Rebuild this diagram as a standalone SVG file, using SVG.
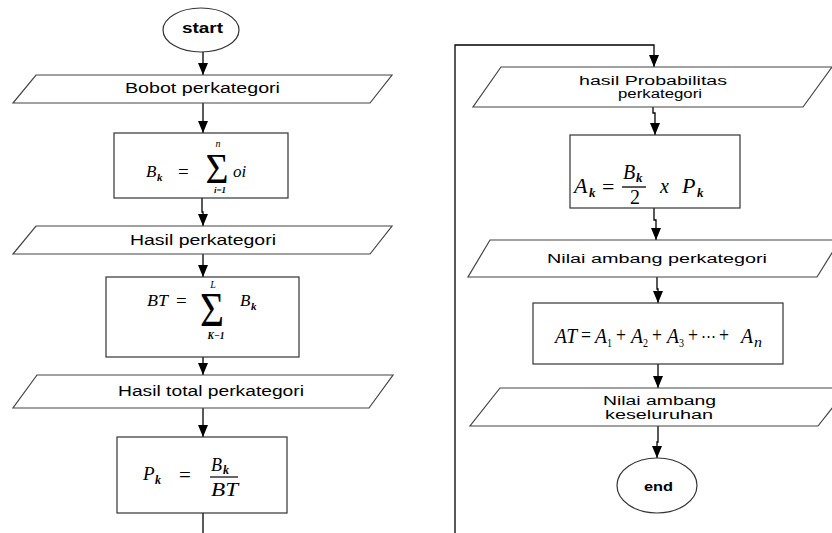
<svg xmlns="http://www.w3.org/2000/svg" width="832" height="533" viewBox="0 0 832 533">
<defs>
<marker id="ah" markerWidth="12" markerHeight="10" refX="12" refY="5" orient="auto" markerUnits="userSpaceOnUse">
<path d="M0,0 L12,5 L0,10 Z" fill="#000"/>
</marker>
<style>
.sh{fill:#fff;stroke:#333;stroke-width:1.2}
.io{fill:#fff;stroke:#444;stroke-width:1.2}
.lbl{font-family:"Liberation Sans",Arial,sans-serif;fill:#000}
.b{font-weight:bold}
.m{font-family:"Liberation Serif","Times New Roman",serif;fill:#000}
.i{font-style:italic}
.kb{font-style:italic;font-weight:bold}
.con{fill:none;stroke:#000;stroke-width:1.3}
</style>
</defs>
<rect width="832" height="533" fill="#fff"/>

<g id="connectors">
<path class="con" d="M203,52 V75" marker-end="url(#ah)"/>
<path class="con" d="M203,103 V133" marker-end="url(#ah)"/>
<path class="con" d="M202,198 V212 H203 V226" marker-end="url(#ah)"/>
<path class="con" d="M203,254 V277" marker-end="url(#ah)"/>
<path class="con" d="M203,357 V375" marker-end="url(#ah)"/>
<path class="con" d="M203,408 V437" marker-end="url(#ah)"/>
<path class="con" d="M203,513 V533"/>
<path class="con" d="M455,533 V45 H654 V67" marker-end="url(#ah)"/>
<path class="con" d="M653,107 V113 H655 V135" marker-end="url(#ah)"/>
<path class="con" d="M654,208 V220 H656 V240" marker-end="url(#ah)"/>
<path class="con" d="M657,277 V289 H658 V303" marker-end="url(#ah)"/>
<path class="con" d="M658,364 V388" marker-end="url(#ah)"/>
<path class="con" d="M658,426 V442 H657 V458" marker-end="url(#ah)"/>
</g>

<g id="start">
<ellipse class="sh" cx="201" cy="30" rx="38" ry="22"/>
<text class="lbl b" x="182" y="33" font-size="14" textLength="41" lengthAdjust="spacingAndGlyphs">start</text>
</g>

<g id="bobot">
<polygon class="io" points="36,75 392,75 370,103 13,103"/>
<text class="lbl" x="125" y="93" font-size="14" textLength="155" lengthAdjust="spacingAndGlyphs">Bobot perkategori</text>
</g>

<g id="formula-bk">
<rect class="sh" x="114" y="133" width="174" height="65"/>
<text class="m i" x="146" y="177" font-size="17">B</text>
<text class="m kb" x="157" y="181" font-size="11">k</text>
<text class="m" x="178" y="178" font-size="19">=</text>
<text class="m" x="217" y="183" font-size="42" text-anchor="middle" textLength="23" lengthAdjust="spacingAndGlyphs">Σ</text>
<text class="m i" x="218" y="147" font-size="10" text-anchor="middle">n</text>
<text class="m i" x="220" y="193" font-size="9" text-anchor="middle" font-weight="bold">i=1</text>
<text class="m i" x="233" y="177" font-size="17">oi</text>
</g>

<g id="hasil">
<polygon class="io" points="36,226 392,226 370,254 13,254"/>
<text class="lbl" x="130" y="245" font-size="14" textLength="146" lengthAdjust="spacingAndGlyphs">Hasil perkategori</text>
</g>

<g id="formula-bt">
<rect class="sh" x="106" y="277" width="193" height="80"/>
<text class="m i" x="147" y="306" font-size="17" textLength="21" lengthAdjust="spacingAndGlyphs">BT</text>
<text class="m" x="176" y="307" font-size="19">=</text>
<text class="m" x="212" y="326" font-size="48" text-anchor="middle" textLength="24" lengthAdjust="spacingAndGlyphs">Σ</text>
<text class="m i" x="213" y="288" font-size="10" text-anchor="middle">L</text>
<text class="m i" x="216" y="339" font-size="9.5" text-anchor="middle" font-weight="bold">K−1</text>
<text class="m i" x="240" y="306" font-size="17">B</text>
<text class="m kb" x="251" y="310" font-size="11">k</text>
</g>

<g id="hasil-total">
<polygon class="io" points="37,375 393,375 369,408 13,408"/>
<text class="lbl" x="118" y="396" font-size="14" textLength="186" lengthAdjust="spacingAndGlyphs">Hasil total perkategori</text>
</g>

<g id="formula-pk">
<rect class="sh" x="117" y="437" width="170" height="76"/>
<text class="m i" x="143" y="480" font-size="19">P</text>
<text class="m kb" x="155" y="484" font-size="12">k</text>
<text class="m" x="179" y="482" font-size="21">=</text>
<text class="m i" x="211" y="471" font-size="18">B</text>
<text class="m kb" x="223" y="474" font-size="12">k</text>
<line x1="210" y1="477" x2="238" y2="477" stroke="#000" stroke-width="1.2"/>
<text class="m i" x="211" y="496" font-size="18" textLength="27" lengthAdjust="spacingAndGlyphs">BT</text>
</g>

<g id="hasil-prob">
<polygon class="io" points="501,67 832,67 803,107 473,107"/>
<text class="lbl" x="579" y="85" font-size="12.5" textLength="148" lengthAdjust="spacingAndGlyphs">hasil Probabilitas</text>
<text class="lbl" x="618" y="98" font-size="12.5" textLength="84" lengthAdjust="spacingAndGlyphs">perkategori</text>
</g>

<g id="formula-ak">
<rect class="sh" x="570" y="135" width="170" height="73"/>
<text class="m i" x="574" y="193" font-size="22">A</text>
<text class="m kb" x="589" y="197" font-size="13">k</text>
<text class="m" x="602" y="194" font-size="22">=</text>
<text class="m i" x="623" y="179" font-size="20">B</text>
<text class="m kb" x="636" y="182" font-size="13">k</text>
<line x1="622" y1="187" x2="646" y2="187" stroke="#000" stroke-width="1.3"/>
<text class="m" x="635" y="204" font-size="20" text-anchor="middle">2</text>
<text class="m i" x="660" y="193" font-size="20">x</text>
<text class="m i" x="682" y="193" font-size="22">P</text>
<text class="m kb" x="697" y="197" font-size="13">k</text>
</g>

<g id="nilai-ambang">
<polygon class="io" points="490,240 840,240 817,277 468,277"/>
<text class="lbl" x="547" y="263" font-size="12.5" textLength="220" lengthAdjust="spacingAndGlyphs">Nilai ambang perkategori</text>
</g>

<g id="formula-at">
<rect class="sh" x="533" y="303" width="250" height="61"/>
<text class="m i" x="555" y="343" font-size="22" textLength="22" lengthAdjust="spacingAndGlyphs">AT</text>
<text class="m" x="581" y="342" font-size="20" textLength="10" lengthAdjust="spacingAndGlyphs">=</text>
<text class="m i" x="595" y="343" font-size="22" textLength="12" lengthAdjust="spacingAndGlyphs">A</text>
<text class="m" x="607" y="347" font-size="13" textLength="5" lengthAdjust="spacingAndGlyphs">1</text>
<text class="m" x="616" y="342" font-size="20" textLength="10" lengthAdjust="spacingAndGlyphs">+</text>
<text class="m i" x="631" y="343" font-size="22" textLength="12" lengthAdjust="spacingAndGlyphs">A</text>
<text class="m" x="643" y="347" font-size="13" textLength="5" lengthAdjust="spacingAndGlyphs">2</text>
<text class="m" x="652" y="342" font-size="20" textLength="10" lengthAdjust="spacingAndGlyphs">+</text>
<text class="m i" x="667" y="343" font-size="22" textLength="12" lengthAdjust="spacingAndGlyphs">A</text>
<text class="m" x="679" y="347" font-size="13" textLength="5" lengthAdjust="spacingAndGlyphs">3</text>
<text class="m" x="688" y="342" font-size="20" textLength="10" lengthAdjust="spacingAndGlyphs">+</text>
<text class="m" x="701" y="342" font-size="16" textLength="15" lengthAdjust="spacingAndGlyphs">⋯</text>
<text class="m" x="719" y="342" font-size="20" textLength="10" lengthAdjust="spacingAndGlyphs">+</text>
<text class="m i" x="741" y="343" font-size="22" textLength="12" lengthAdjust="spacingAndGlyphs">A</text>
<text class="m i" x="754" y="347" font-size="14" textLength="8" lengthAdjust="spacingAndGlyphs">n</text>
</g>

<g id="nilai-keseluruhan">
<polygon class="io" points="500,388 848,388 818,426 470,426"/>
<text class="lbl" x="603" y="405" font-size="12.5" textLength="113" lengthAdjust="spacingAndGlyphs">Nilai ambang</text>
<text class="lbl" x="605" y="419" font-size="12.5" textLength="108" lengthAdjust="spacingAndGlyphs">keseluruhan</text>
</g>

<g id="end">
<ellipse class="sh" cx="657" cy="485.5" rx="40" ry="27.5"/>
<text class="lbl b" x="644" y="491" font-size="12.5" textLength="29" lengthAdjust="spacingAndGlyphs">end</text>
</g>
</svg>
